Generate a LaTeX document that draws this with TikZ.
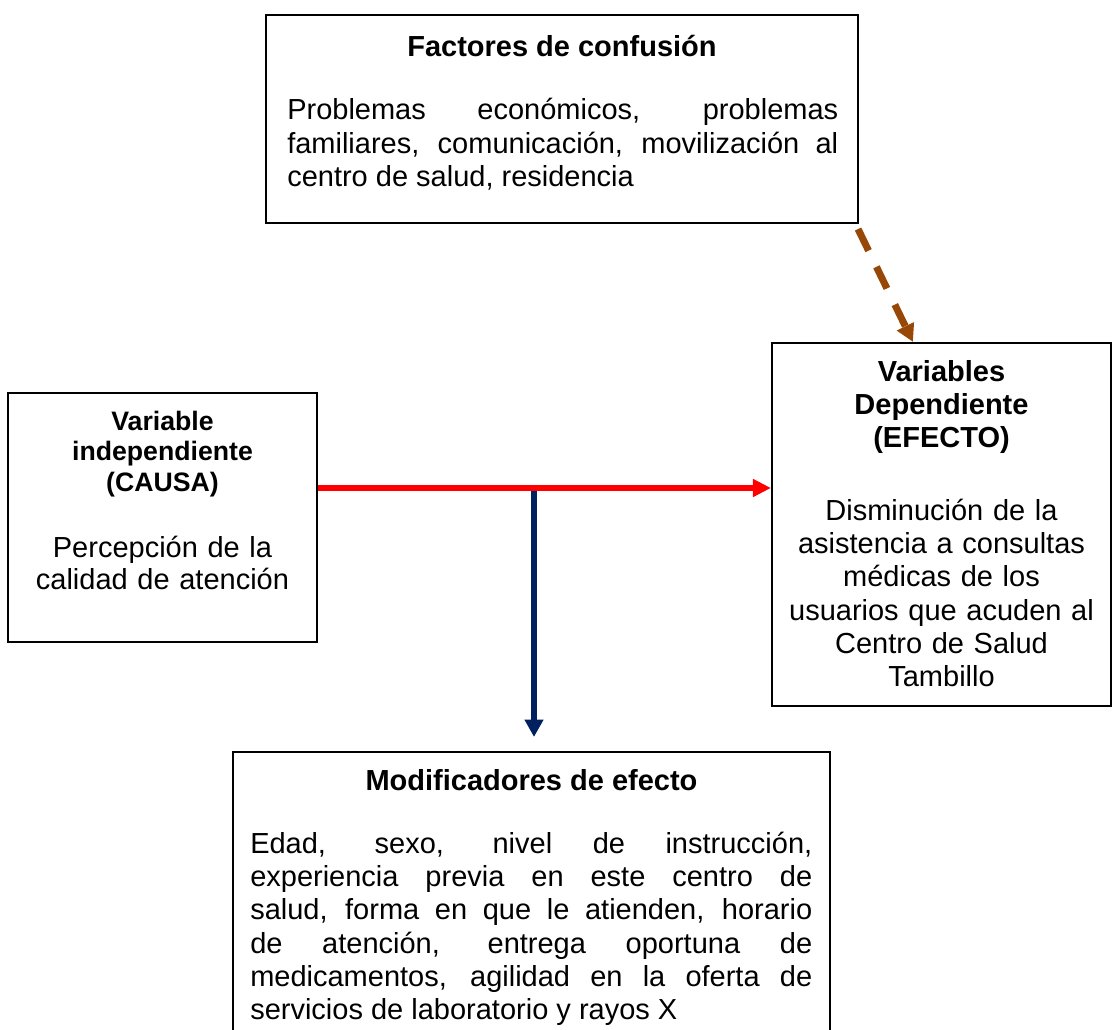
\documentclass[tikz,border=0pt]{standalone}
\usepackage{fontspec}
\setmainfont{Liberation Sans}
\usetikzlibrary{arrows.meta,calc}
\definecolor{navyarrow}{RGB}{0,32,96}
\definecolor{brownarrow}{RGB}{152,72,6}
\begin{document}
\begin{tikzpicture}[x=0.75pt,y=-0.75pt,
  box/.style={draw=black,line width=1.6pt,inner sep=0pt},
  bodytxt/.style={inner sep=0pt,font=\fontsize{21.75}{25}\selectfont},
  headtxt/.style={inner sep=0pt,font=\bfseries\fontsize{21.75}{24.4}\selectfont},
  smallhead/.style={inner sep=0pt,font=\bfseries\fontsize{20}{23}\selectfont},
  redarrow/.style={draw=red,line width=4.5pt,-{Triangle[length=13.5pt,width=12.75pt]}},
  bluearrow/.style={draw=navyarrow,line width=4.5pt,-{Triangle[length=13pt,width=13.5pt]}},
  brownarr/.style={draw=brownarrow,line width=5.25pt,dash pattern=on 18pt off 13.5pt,-{Triangle[length=13pt,width=13.5pt]}}
]
\clip (0,0) rectangle (1113,1030);
\fill[white] (0,0) rectangle (1113,1030);

% boxes
\node[box,minimum width=444pt,minimum height=156pt] (fc) at (562,119) {};
\node[box,minimum width=231.75pt,minimum height=186.75pt] (vi) at (162.5,517.5) {};
\node[box,minimum width=254.25pt,minimum height=272.25pt] (vd) at (941.5,524.5) {};
\node[box,minimum width=447.75pt,minimum height=211.5pt] (mf) at (531.5,893) {};

% texts
\node[headtxt,anchor=base] (fch) at (562,57) {Factores de confusión};
\node[bodytxt,anchor=base west,text width=413.25pt,align=justify] (fcb) at (287,120)
  {Problemas económicos, problemas\linebreak familiares, comunicación, movilización al\linebreak centro de salud, residencia};

\node[smallhead,anchor=base,text width=220pt,align=center] (vih) at (162.5,430)
  {Variable\\independiente\\(CAUSA)};
\node[bodytxt,anchor=base,text width=220pt,align=center,font=\fontsize{21.75}{24}\selectfont] (vib) at (162.5,557)
  {Percepción de la\\calidad de atención};

\node[headtxt,anchor=base,text width=240pt,align=center] (vdh) at (941.5,382)
  {Variables\\Dependiente\\(EFECTO)};
\node[bodytxt,anchor=base,text width=240pt,align=center] (vdb) at (941.5,520)
  {Disminución de la\\asistencia a consultas\\médicas de los\\usuarios que acuden al\\Centro de Salud\\Tambillo};

\node[headtxt,anchor=base] (mfh) at (531.5,790) {Modificadores de efecto};
\node[bodytxt,anchor=base west,text width=421.5pt,align=justify] (mfb) at (250,853)
  {Edad, sexo, nivel de instrucción,\linebreak experiencia previa en este centro de\linebreak salud, forma en que le atienden, horario\linebreak de atención, entrega oportuna de\linebreak medicamentos, agilidad en la oferta de\linebreak servicios de laboratorio y rayos X};

% connectors
\coordinate (jt) at (534,488);
\draw[bluearrow] (jt) -- ([yshift=10.5pt]jt |- mf.north);
\draw[redarrow] (vi.east |- jt) -- (vd.west |- jt);
\draw[brownarr] ($(fc.south east)+(-1,5)$) -- ($(vd.north west)+(142,0)$);
\end{tikzpicture}
\end{document}
